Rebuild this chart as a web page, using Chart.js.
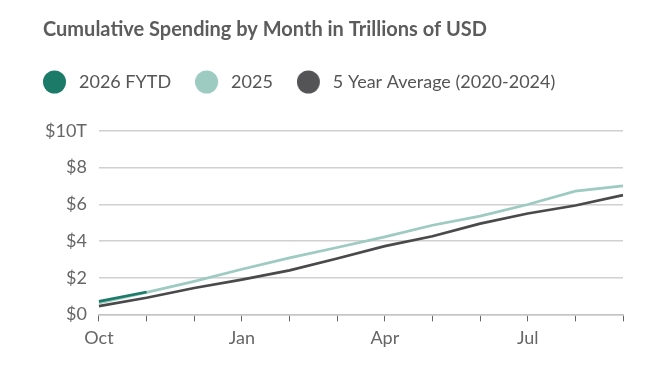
<!DOCTYPE html>
<html>
<head>
<meta charset="utf-8">
<script src="https://cdn.jsdelivr.net/npm/chart.js@4.4.1/dist/chart.umd.min.js"></script>
<style>
  html, body { margin: 0; padding: 0; background: #fff; }
  #wrap { width: 648px; height: 384px; }
</style>
</head>
<body>
<div id="wrap"><canvas id="spendChart"></canvas></div>
<script>
"use strict";

// months of the fiscal year (Oct -> Sep)
const months = ['Oct', 'Nov', 'Dec', 'Jan', 'Feb', 'Mar', 'Apr', 'May', 'Jun', 'Jul', 'Aug', 'Sep'];
const shownMonths = ['Oct', 'Jan', 'Apr', 'Jul'];

// cumulative spending, trillions of USD
const fytd2026 = [0.71, 1.22, null, null, null, null, null, null, null, null, null, null];
const spend2025 = [0.62, 1.20, 1.80, 2.46, 3.08, 3.65, 4.23, 4.86, 5.36, 5.99, 6.72, 7.01];
const avg5yr = [0.45, 0.91, 1.44, 1.90, 2.40, 3.05, 3.72, 4.26, 4.95, 5.50, 5.94, 6.50];

const yTicks = [0, 2, 4, 6, 8, 10];

const fontFamily = "Lato, 'Open Sans', sans-serif";
Chart.defaults.font.family = fontFamily;
Chart.defaults.color = '#666';

// legend marker: a dot with some blank room on its right so the label sits further away
function legendDot(color) {
    let c = document.createElement('canvas');
    c.width = 27;
    c.height = 24;
    let g = c.getContext('2d');
    g.fillStyle = color;
    g.beginPath();
    g.arc(11.5, 12, 11.5, 0, Math.PI * 2);
    g.fill();
    return c;
}

// keep the legend on one row, give it room below, and line title/legend up with the y labels
const blockOffsets = {
    id: 'blockOffsets',
    beforeInit(chart) {
        const fit = chart.legend.fit;
        chart.legend.fit = function () {
            this.maxWidth = 700;
            fit.bind(chart.legend)();
            this.height += 30;
        };
    },
    afterLayout(chart) {
        chart.titleBlock.left += 10;
        chart.legend.left -= 14;
    }
};

let ctx = document.getElementById('spendChart');
new Chart(ctx, {
    type: 'line',
    data: {
        labels: months,
        datasets: [{
            label: '2026 FYTD',
            data: fytd2026,
            borderColor: '#1b7b68',
            backgroundColor: '#1b7b68',
            pointStyle: legendDot('#1b7b68'),
            borderWidth: 2.7,
            pointRadius: 0,
            tension: 0
        }, {
            label: '2025',
            data: spend2025,
            borderColor: '#9dcac1',
            backgroundColor: '#9dcac1',
            pointStyle: legendDot('#9dcac1'),
            borderWidth: 2.7,
            pointRadius: 0,
            tension: 0
        }, {
            label: '5 Year Average (2020-2024)',
            data: avg5yr,
            borderColor: '#4a4a4c',
            backgroundColor: '#4a4a4c',
            pointStyle: legendDot('#545456'),
            borderWidth: 2.7,
            pointRadius: 0,
            tension: 0
        }]
    },
    options: {
        responsive: true,
        maintainAspectRatio: false,
        animation: false,
        layout: {
            padding: { left: 33, right: 25, top: 10, bottom: 29 }
        },
        plugins: {
            title: {
                display: true,
                text: 'Cumulative Spending by Month in Trillions of USD',
                align: 'start',
                color: '#5c5c5c',
                font: { size: 20, weight: 'bold' },
                padding: { top: 8, bottom: 7 }
            },
            legend: {
                align: 'start',
                labels: {
                    usePointStyle: true,
                    boxHeight: 19,
                    pointStyleWidth: 27,
                    padding: 24,
                    color: '#555',
                    font: { size: 18 }
                }
            },
            tooltip: { enabled: false }
        },
        scales: {
            x: {
                grid: {
                    drawOnChartArea: false,
                    drawTicks: true,
                    tickLength: 7,
                    color: '#666'
                },
                border: { color: '#c4c4c4', width: 1.5 },
                ticks: {
                    autoSkip: false,
                    maxRotation: 0,
                    padding: 6,
                    font: { size: 18 },
                    color: '#666',
                    callback: function (value, index) {
                        let m = months[index];
                        return shownMonths.includes(m) ? m : '';
                    }
                }
            },
            y: {
                min: 0,
                max: 10,
                afterBuildTicks: function (axis) {
                    axis.ticks = yTicks.map(v => ({ value: v }));
                },
                grid: {
                    drawTicks: false,
                    color: '#d0d0d0',
                    lineWidth: 1.5
                },
                border: { display: false },
                ticks: {
                    padding: 12,
                    font: { size: 18 },
                    color: '#666',
                    callback: function (value) {
                        return value === 10 ? '$10T' : '$' + value;
                    }
                }
            }
        }
    },
    plugins: [blockOffsets]
});
</script>
</body>
</html>
